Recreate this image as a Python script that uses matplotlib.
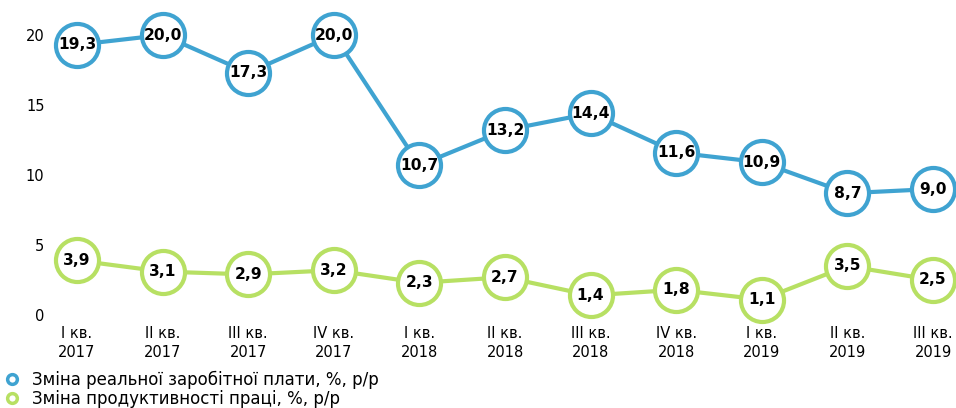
import matplotlib.pyplot as plt
from matplotlib.lines import Line2D

# ---------------- Data ----------------
quarters = ["I кв.\n2017", "II кв.\n2017", "III кв.\n2017", "IV кв.\n2017",
            "I кв.\n2018", "II кв.\n2018", "III кв.\n2018", "IV кв.\n2018",
            "I кв.\n2019", "II кв.\n2019", "III кв.\n2019"]
wages = [19.3, 20.0, 17.3, 20.0, 10.7, 13.2, 14.4, 11.6, 10.9, 8.7, 9.0]
productivity = [3.9, 3.1, 2.9, 3.2, 2.3, 2.7, 1.4, 1.8, 1.1, 3.5, 2.5]
yticks = [0, 5, 10, 15, 20]

label_wages = "Зміна реальної заробітної плати, %, р/р"
label_prod = "Зміна продуктивності праці, %, р/р"

blue = "#3fa3d1"
green = "#b7e063"

plt.rcParams['font.family'] = ['DejaVu Sans']

W, H = 956, 408
fig = plt.figure(figsize=(W / 100, H / 100), dpi=100)
# axes: left edge at 50px, bottom at y=0 -> 315px from top, top at 20 -> 35px from top
ax = fig.add_axes([50 / W, 93 / H, (W - 50) / W, 280 / H])

x = list(range(len(quarters)))
step = 85.6
ax.set_xlim((50 - 77) / step, (W - 77) / step)
ax.set_ylim(0, 20)

for vals, col in [(wages, blue), (productivity, green)]:
    ax.plot(x, vals, color=col, lw=3, marker='o', ms=31, mfc='white',
            mec=col, mew=3, clip_on=False, zorder=3)
    for xi, v in zip(x, vals):
        ax.text(xi, v, f"{v:.1f}".replace('.', ','), ha='center', va='center',
                fontsize=11.2, fontweight='bold', color='black', zorder=4)

ax.set_xticks(x)
ax.set_xticklabels(quarters, fontsize=10.5, linespacing=1.3)
ax.set_yticks(yticks)
ax.set_yticklabels([str(t) for t in yticks], fontsize=10.5)
ax.tick_params(length=0, pad=4)
ax.tick_params(axis='x', pad=8)
for s in ax.spines.values():
    s.set_visible(False)

handles = [
    Line2D([], [], ls='none', marker='o', ms=7, mfc='white', mec=blue, mew=2.5),
    Line2D([], [], ls='none', marker='o', ms=7, mfc='white', mec=green, mew=2.5),
]
fig.legend(handles, [label_wages, label_prod], loc='lower left',
           bbox_to_anchor=(0.002, -0.003), frameon=False, fontsize=12,
           borderaxespad=0, borderpad=0.1, handlelength=1.0,
           handletextpad=0.7, labelspacing=0.05)

fig.savefig("out.png", dpi=100)
